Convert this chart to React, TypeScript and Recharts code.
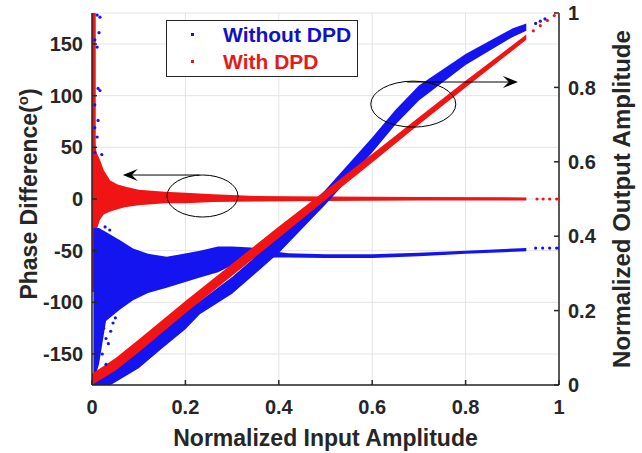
import {
  Area,
  CartesianGrid,
  ComposedChart,
  Legend,
  Line,
  ReferenceDot,
  ReferenceLine,
  XAxis,
  YAxis,
} from 'recharts';

const BLUE = '#1414f0';
const RED = '#f01414';
const INK = '#262626';
const FONT = "'Liberation Sans', Arial, Helvetica, sans-serif";

const xTicks = [0, 0.2, 0.4, 0.6, 0.8, 1];
const phaseTicks = [-150, -100, -50, 0, 50, 100, 150];
const ampTicks = [0, 0.2, 0.4, 0.6, 0.8, 1];

// AM/AM (right axis) - band limits
const withoutAmX = [0, 0.04, 0.1, 0.146, 0.2, 0.231, 0.3, 0.4, 0.5, 0.6, 0.65, 0.7, 0.8, 0.9, 0.93];
const withoutAmLow = [0, 0, 0.045, 0.094, 0.15, 0.19, 0.245, 0.355, 0.485, 0.625, 0.7, 0.765, 0.86, 0.935, 0.952];
const withoutAmHigh = [0.012, 0.05, 0.1, 0.14, 0.2, 0.225, 0.29, 0.4, 0.525, 0.665, 0.74, 0.805, 0.89, 0.958, 0.972];

const withAmX = [0, 0.05, 0.1, 0.2, 0.3, 0.4, 0.5, 0.6, 0.7, 0.8, 0.93];
const withAmLow = [0, 0.038, 0.088, 0.193, 0.294, 0.395, 0.497, 0.598, 0.7, 0.8, 0.928];
const withAmHigh = [0.03, 0.072, 0.122, 0.226, 0.326, 0.426, 0.523, 0.621, 0.72, 0.818, 0.942];

const withoutAmTailX = [0.95, 0.96, 0.97];
const withoutAmTailY = [0.972, 0.978, 0.984];
const withAmTailX = [0.945, 0.96, 0.975, 0.99, 1.0];
const withAmTailY = [0.952, 0.966, 0.98, 0.993, 1.0];

// AM/PM (left axis), degrees
const withoutPhX = [0.003, 0.015, 0.03, 0.06, 0.088, 0.12, 0.16, 0.231, 0.27, 0.3, 0.34, 0.38, 0.42, 0.5, 0.6, 0.7, 0.8, 0.93];
const withoutPhHigh = [-28, -28, -32, -40, -48, -53, -56, -50, -46, -46, -47, -50, -52.5, -53.5, -53.5, -52, -50, -47.5];
const withoutPhLow = [-178, -160, -118, -107, -98, -91, -86, -76, -71, -64, -58, -56.5, -56.5, -57, -57, -55.5, -53, -50.5];

const withPhX = [0.004, 0.01, 0.017, 0.025, 0.039, 0.055, 0.07, 0.1, 0.156, 0.2, 0.26, 0.35, 0.5, 0.7, 0.93];
const withPhHigh = [60, 45, 38, 28, 18, 14, 12, 9, 7, 6, 4.5, 3, 2.5, 2, 1.5];
const withPhLow = [-70, -30, -20, -15, -12, -10, -8, -6, -4, -4, -3, -2.5, -2, -1.5, -1.5];

const withStripX = [0, 0.008];
const withStripLow = [-90, -90];
const withStripHigh = [180, 180];

const withoutPhTailX = [0.95, 0.965, 0.98, 0.995, 1.0];
const withoutPhTailY = [-47.5, -47.5, -47.5, -47.5, -47.5];
const withPhTailX = [0.953, 0.966, 0.98, 0.995, 1.0];
const withPhTailY = [0, 0, 0, 0, 0];

// scattered blue points close to zero input
const withoutPhDotX = [0.006, 0.006, 0.006, 0.006, 0.011, 0.011, 0.011, 0.013, 0.013, 0.015, 0.017, 0.017, 0.021, 0.022, 0.025, 0.028, 0.03, 0.03, 0.035, 0.038, 0.04, 0.045, 0.05];
const withoutPhDotY = [154, 91, 69, 45, 178, 147, 60, 107, 76, 161, 176, 105, 43, -150, -125, -27, -135, -160, -140, -30, -128, -120, -115];

const band = (xs: number[], lo: number[], hi: number[]) => xs.map((x, i) => ({ x, r: [lo[i], hi[i]] }));
const dots = (xs: number[], ys: number[]) => xs.map((x, i) => ({ x, y: ys[i] }));

const legendOrder = ['Without DPD', 'With DPD'];
const legendText: Record<string, string> = { 'Without DPD': '#1212c4', 'With DPD': '#e41b1b' };

const tickStyle = { fontSize: 20, fontWeight: 700, fill: INK, fontFamily: FONT };
const titleStyle = { fontSize: 23, fontWeight: 700, fill: INK, fontFamily: FONT };

const arrow = (p: any) => {
  const { x1, y1, x2, y2 } = p;
  const a = Math.atan2(y2 - y1, x2 - x1);
  const c = Math.cos(a);
  const s = Math.sin(a);
  const L = 15;
  const W = 6;
  const bx = x2 - c * L;
  const by = y2 - s * L;
  const nx = x2 - c * L * 0.6;
  const ny = y2 - s * L * 0.6;
  const d = `M${x2},${y2} L${bx - s * W},${by + c * W} L${nx},${ny} L${bx + s * W},${by - c * W} Z`;
  return (
    <g>
      <line x1={x1} y1={y1} x2={nx} y2={ny} stroke="#000" strokeWidth={1} />
      <path d={d} fill="#000" />
    </g>
  );
};

const ellipse = (rx: number, ry: number) => (p: any) => (
  <ellipse cx={p.cx} cy={p.cy} rx={rx} ry={ry} fill="none" stroke="#000" strokeWidth={1} />
);

const leftTitle = (p: any) => {
  const vb = p.viewBox ?? { x: 0, y: 13, width: 92, height: 372 };
  const cx = vb.x + 37;
  const cy = vb.y + vb.height / 2 - 5;
  return (
    <text x={cx} y={cy} transform={`rotate(-90, ${cx}, ${cy})`} textAnchor="middle" style={titleStyle}>
      Phase Difference(<tspan dy={-9} fontSize={15}>o</tspan>
      <tspan dy={9}>)</tspan>
    </text>
  );
};

const rightTitle = (p: any) => {
  const vb = p.viewBox ?? { x: 559, y: 13, width: 83, height: 372 };
  const cx = vb.x + 71;
  const cy = vb.y + vb.height / 2;
  return (
    <text x={cx} y={cy} transform={`rotate(-90, ${cx}, ${cy})`} textAnchor="middle" style={{ ...titleStyle, fontSize: 24 }}>
      Normalized Output Amplitude
    </text>
  );
};

const bottomTitle = (p: any) => {
  const vb = p.viewBox ?? { x: 92, y: 385, width: 467, height: 68 };
  return (
    <text x={vb.x + vb.width / 2} y={vb.y + 61} textAnchor="middle" style={titleStyle}>
      Normalized Input Amplitude
    </text>
  );
};

const renderLegend = (props: any) => {
  const items = legendOrder
    .map((name) => (props.payload ?? []).find((e: any) => e.value === name))
    .filter(Boolean);
  return (
    <div
      style={{
        boxSizing: 'border-box',
        width: 192,
        height: 57,
        border: `1.5px solid ${INK}`,
        background: '#fff',
        fontFamily: FONT,
      }}
    >
      {items.map((e: any) => (
        <div key={e.value} style={{ position: 'relative', height: 27, lineHeight: '27px' }}>
          <span
            style={{
              position: 'absolute',
              left: 24,
              top: 12,
              width: 3,
              height: 3,
              background: e.color,
            }}
          />
          <span
            style={{
              position: 'absolute',
              left: 56,
              fontSize: 21,
              fontWeight: 700,
              color: legendText[e.value],
            }}
          >
            {e.value}
          </span>
        </div>
      ))}
    </div>
  );
};

const areaProps = {
  xAxisId: 'x',
  dataKey: 'r',
  type: 'linear' as const,
  stroke: 'none',
  fillOpacity: 1,
  isAnimationActive: false,
  dot: false,
  activeDot: false,
};

const dotProps = (color: string) => ({
  xAxisId: 'x',
  dataKey: 'y',
  stroke: 'none',
  dot: { r: 1.6, fill: color, stroke: 'none', strokeWidth: 0 },
  activeDot: false,
  isAnimationActive: false,
  legendType: 'none' as const,
});

const App = () => (
  <div style={{ position: 'absolute', left: 0, top: 0, fontFamily: FONT, background: '#fff' }}>
    <ComposedChart width={642} height={453} margin={{ top: 13, right: 0, bottom: 0, left: 0 }}>
      <CartesianGrid xAxisId="x" yAxisId="phase" stroke="#e4e4e4" strokeWidth={1} />
      <XAxis
        xAxisId="x"
        dataKey="x"
        type="number"
        domain={[0, 1]}
        ticks={xTicks}
        allowDataOverflow
        height={68}
        tickSize={-5}
        tickMargin={20}
        tick={tickStyle}
        stroke={INK}
        strokeWidth={1.5}
        label={{ content: bottomTitle }}
      />
      <XAxis
        xAxisId="top"
        dataKey="x"
        orientation="top"
        type="number"
        domain={[0, 1]}
        ticks={xTicks}
        allowDataOverflow
        height={0}
        tickSize={-5}
        tick={false}
        stroke={INK}
        strokeWidth={1.5}
      />
      <YAxis
        yAxisId="phase"
        type="number"
        domain={[-180, 180]}
        ticks={phaseTicks}
        allowDataOverflow
        width={92}
        tickSize={-5}
        tickMargin={14}
        tick={tickStyle}
        stroke={INK}
        strokeWidth={1.5}
        label={{ content: leftTitle }}
      />
      <YAxis
        yAxisId="amp"
        orientation="right"
        type="number"
        domain={[0, 1]}
        ticks={ampTicks}
        allowDataOverflow
        width={83}
        tickSize={-5}
        tickMargin={14}
        tick={tickStyle}
        stroke={INK}
        strokeWidth={1.5}
        label={{ content: rightTitle }}
      />

      <Area {...areaProps} yAxisId="phase" data={band(withStripX, withStripLow, withStripHigh)} fill={RED} legendType="none" />
      <Area {...areaProps} yAxisId="phase" data={band(withPhX, withPhLow, withPhHigh)} fill={RED} legendType="none" />
      <Line {...dotProps(RED)} yAxisId="phase" data={dots(withPhTailX, withPhTailY)} />

      <Area {...areaProps} yAxisId="phase" data={band(withoutPhX, withoutPhLow, withoutPhHigh)} fill={BLUE} legendType="none" />
      <Line {...dotProps(BLUE)} yAxisId="phase" data={dots(withoutPhDotX, withoutPhDotY)} />
      <Line {...dotProps(BLUE)} yAxisId="phase" data={dots(withoutPhTailX, withoutPhTailY)} />

      <Area {...areaProps} yAxisId="amp" name="Without DPD" data={band(withoutAmX, withoutAmLow, withoutAmHigh)} fill={BLUE} />
      <Line {...dotProps(BLUE)} yAxisId="amp" data={dots(withoutAmTailX, withoutAmTailY)} />

      <Area {...areaProps} yAxisId="amp" name="With DPD" data={band(withAmX, withAmLow, withAmHigh)} fill={RED} />
      <Line {...dotProps(RED)} yAxisId="amp" data={dots(withAmTailX, withAmTailY)} />

      <ReferenceDot xAxisId="x" yAxisId="phase" x={0.2366} y={2.9} r={0} shape={ellipse(35.5, 21)} />
      <ReferenceLine xAxisId="x" yAxisId="phase" segment={[{ x: 0.23, y: 23.2 }, { x: 0.066, y: 23.2 }]} shape={arrow} />
      <ReferenceDot xAxisId="x" yAxisId="amp" x={0.688} y={0.755} r={0} shape={ellipse(42.5, 23)} />
      <ReferenceLine xAxisId="x" yAxisId="amp" segment={[{ x: 0.675, y: 0.8145 }, { x: 0.912, y: 0.8145 }]} shape={arrow} />

      <Legend
        layout="horizontal"
        verticalAlign="middle"
        align="center"
        wrapperStyle={{ left: 166, top: 20, width: 192, height: 57 }}
        content={renderLegend}
      />
    </ComposedChart>
  </div>
);

export default App;
